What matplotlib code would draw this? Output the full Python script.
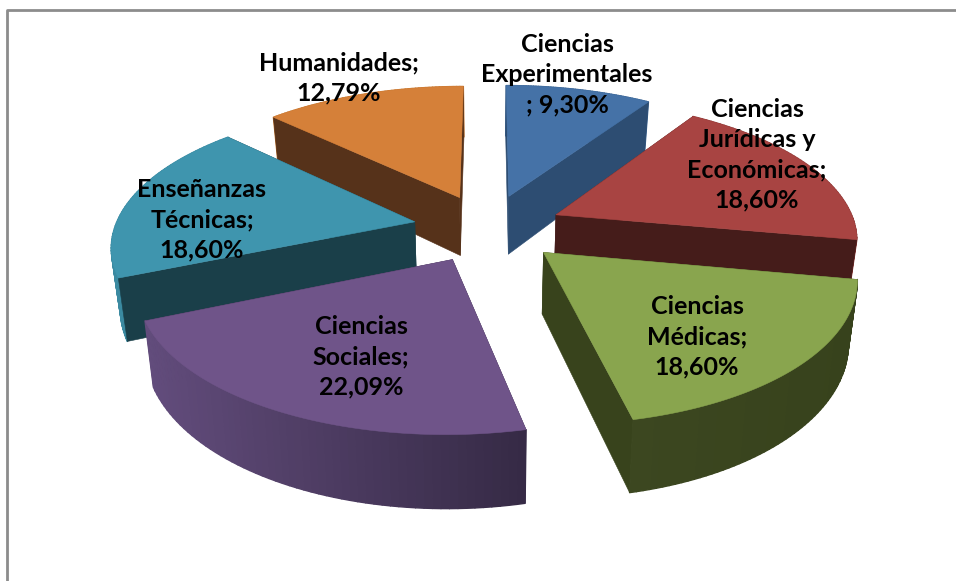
import numpy as np
import matplotlib
matplotlib.use("Agg")
import matplotlib.pyplot as plt
from matplotlib.collections import PolyCollection
from matplotlib.patches import Polygon
from matplotlib.colors import to_rgb

categories = ['Ciencias\nExperimentales\n; 9,30%', 'Ciencias\nJurídicas y\nEconómicas;\n18,60%',
              'Ciencias\nMédicas;\n18,60%', 'Ciencias\nSociales;\n22,09%',
              'Enseñanzas\nTécnicas;\n18,60%', 'Humanidades;\n12,79%']
values = [9.30, 18.60, 18.60, 22.09, 18.60, 12.79]

top_colors = ['#4572a7', '#a84442', '#89a54e', '#6f5489', '#3f95ae', '#d58039']
cut_colors = ['#2d4d72', '#451c1a', '#38431c', '#362a45', '#1a3f49', '#56321a']
wall_left = ['#3e6795', '#8e3a38', '#3c4720', '#624c7c', '#3b8aa1', '#c7772f']
wall_right = ['#3e6795', '#8e3a38', '#37421c', '#362a45', '#3b8aa1', '#c7772f']
label_pos = [(567, 75), (757, 155), (697, 337), (361, 357), (202, 220), (339, 78)]

# projection of the tilted disc, all in pixels
cx, cy = 488, 228
A, B, k = 300, 137, 0.155
explode = 0.25
depth = 60
shrink = 1.025


def project(X, Y, bottom=False):
    w = 1 + k * Y
    sx = cx + A * X / w
    sy = cy - B * Y / w
    if bottom:
        sx = cx + (sx - cx) / shrink
        sy = sy + depth / w
    return sx, sy


fig = plt.figure(figsize=(9.56, 5.81), dpi=100)
ax = fig.add_axes([0, 0, 1, 1])
ax.set_xlim(0, 956)
ax.set_ylim(581, 0)
ax.axis('off')

# chart area frame, open to the right and bottom
ax.plot([7, 7, 956], [581, 10, 10], color='#8c8c8c', lw=2)

edges = np.cumsum([0] + values) / sum(values) * 2 * np.pi
for i in [5, 0, 1, 4, 2, 3]:
    t0, t1 = edges[i], edges[i + 1]
    mid = (t0 + t1) / 2
    ex, ey = explode * np.sin(mid), explode * np.cos(mid)
    t = np.linspace(t0, t1, 60)
    X, Y = ex + np.sin(t), ey + np.cos(t)
    sx, sy = project(X, Y)
    bx, by = project(X, Y, bottom=True)
    ax0, ay0 = project(ex, ey)
    bx0, by0 = project(ex, ey, bottom=True)

    # outer wall, strips shaded from left to right
    xmin, xmax = min(sx.min(), bx.min()), max(sx.max(), bx.max())
    c0, c1 = np.array(to_rgb(wall_left[i])), np.array(to_rgb(wall_right[i]))
    quads, cols = [], []
    for j in range(len(t) - 1):
        quads.append([(sx[j], sy[j]), (sx[j + 1], sy[j + 1]), (bx[j + 1], by[j + 1]), (bx[j], by[j])])
        f = ((sx[j] + sx[j + 1]) / 2 - xmin) / (xmax - xmin)
        cols.append(c0 + (c1 - c0) * f)
    wall = PolyCollection(quads, facecolors=cols, edgecolors=cols, linewidths=1.0)

    # cut faces, the one further back first
    ends = [0, -1] if sy[0] < sy[-1] else [-1, 0]
    cuts = [Polygon([(ax0, ay0), (sx[e], sy[e]), (bx[e], by[e]), (bx0, by0)],
                    fc=cut_colors[i], ec=cut_colors[i], lw=0.4) for e in ends]

    if np.cos(mid) > 0:
        ax.add_collection(wall)
        for c in cuts:
            ax.add_patch(c)
    else:
        for c in cuts:
            ax.add_patch(c)
        ax.add_collection(wall)

    ax.add_patch(Polygon(np.r_[[(ax0, ay0)], np.c_[sx, sy]], fc=top_colors[i], ec=top_colors[i], lw=0.4))

for label, (lx, ly) in zip(categories, label_pos):
    ax.text(lx, ly, label, ha='center', va='center', fontsize=18, fontweight='bold',
            family='Lato', color='black', linespacing=1.38)

fig.savefig('out.png', dpi=100)
